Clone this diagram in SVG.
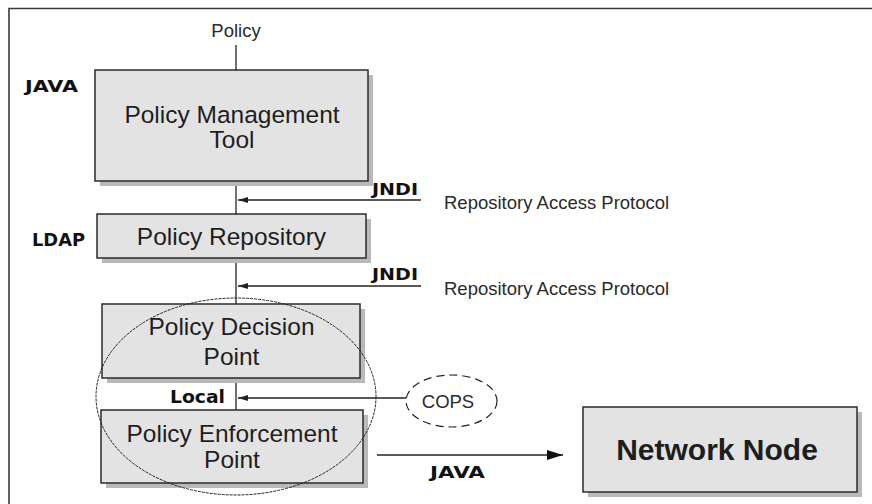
<svg xmlns="http://www.w3.org/2000/svg" width="872" height="504" viewBox="0 0 872 504">
  <defs>
    <style>
      .box { fill: #e3e3e3; stroke: #2b2b2b; stroke-width: 1.5; }
      .shadow { fill: #b9b9b9; }
      .lbl { font-family: "Liberation Sans", Arial, sans-serif; fill: #1e1e1e; text-anchor: middle; }
      .big { font-size: 24.5px; }
      .note { font-size: 18.5px; fill: #2a2a2a; }
      .tag { font-family: "DejaVu Sans", Verdana, sans-serif; font-weight: bold; fill: #111; }
      .wire { stroke: #222; stroke-width: 1.3; fill: none; }
      .frame { stroke: #3a3a3a; stroke-width: 1.6; fill: none; }
    </style>
    <marker id="tipSmall" viewBox="0 0 10 6" refX="10" refY="3" markerWidth="10" markerHeight="6" markerUnits="userSpaceOnUse" orient="auto">
      <path d="M0,0 L10,3 L0,6 Z" fill="#222"/>
    </marker>
    <marker id="tipLarge" viewBox="0 0 16 10" refX="16" refY="5" markerWidth="16" markerHeight="10" markerUnits="userSpaceOnUse" orient="auto">
      <path d="M0,0 L16,5 L0,10 Z" fill="#111"/>
    </marker>
  </defs>

  <rect width="872" height="504" fill="#ffffff"/>

  <!-- outer frame (open to the right and bottom) -->
  <path class="frame" d="M872,8.5 H9 V504"/>

  <!-- side technology tags -->
  <text class="tag" x="25" y="92" font-size="16" textLength="53" lengthAdjust="spacingAndGlyphs">JAVA</text>
  <text class="tag" x="32" y="246" font-size="18" textLength="53" lengthAdjust="spacingAndGlyphs">LDAP</text>

  <!-- connectors -->
  <g id="connectors">
    <line class="wire" x1="236" y1="45" x2="236" y2="70"/>
    <line class="wire" x1="236" y1="181" x2="236" y2="214"/>
    <line class="wire" x1="236" y1="258" x2="236" y2="304"/>
    <line class="wire" x1="236" y1="378" x2="236" y2="410"/>
    <line class="wire" x1="421" y1="200" x2="238" y2="200" marker-end="url(#tipSmall)"/>
    <line class="wire" x1="421" y1="286" x2="238" y2="286" marker-end="url(#tipSmall)"/>
    <line class="wire" x1="406" y1="398" x2="238" y2="398" marker-end="url(#tipSmall)"/>
    <line class="wire" x1="377" y1="455" x2="563" y2="455" marker-end="url(#tipLarge)"/>
    <text class="lbl note" x="236" y="37">Policy</text>
    <text class="tag" x="372" y="195" font-size="15" textLength="46" lengthAdjust="spacingAndGlyphs">JNDI</text>
    <text class="tag" x="372" y="280" font-size="15" textLength="46" lengthAdjust="spacingAndGlyphs">JNDI</text>
    <text class="tag" x="170" y="403" font-size="18" textLength="55" lengthAdjust="spacingAndGlyphs">Local</text>
    <text class="tag" x="430" y="478" font-size="16" textLength="55" lengthAdjust="spacingAndGlyphs">JAVA</text>
    <text class="lbl note" x="444" y="209" style="text-anchor:start">Repository Access Protocol</text>
    <text class="lbl note" x="444" y="295" style="text-anchor:start">Repository Access Protocol</text>
  </g>

  <g id="policy-management-tool">
    <rect class="shadow" x="100" y="75" width="273" height="111"/>
    <rect class="box" x="95" y="70" width="273" height="111"/>
    <text class="lbl big" x="232" y="123">Policy Management</text>
    <text class="lbl big" x="232" y="148">Tool</text>
  </g>

  <g id="policy-repository">
    <rect class="shadow" x="102" y="219" width="269" height="44"/>
    <rect class="box" x="97" y="214" width="269" height="44"/>
    <text class="lbl big" x="231.5" y="245">Policy Repository</text>
  </g>

  <g id="policy-decision-point">
    <rect class="shadow" x="107" y="309" width="258" height="74"/>
    <rect class="box" x="102" y="304" width="258" height="74"/>
    <text class="lbl big" x="231.5" y="335">Policy Decision</text>
    <text class="lbl big" x="231.5" y="365">Point</text>
  </g>

  <g id="policy-enforcement-point">
    <rect class="shadow" x="106" y="415" width="262" height="73"/>
    <rect class="box" x="101" y="410" width="262" height="73"/>
    <text class="lbl big" x="232" y="442">Policy Enforcement</text>
    <text class="lbl big" x="232" y="468">Point</text>
  </g>

  <g id="policy-server">
    <ellipse cx="236" cy="396.5" rx="140" ry="98.5" fill="none" stroke="#222" stroke-width="1" stroke-dasharray="3 1"/>
  </g>

  <g id="cops">
    <ellipse cx="451.5" cy="401" rx="45.5" ry="26" fill="none" stroke="#222" stroke-width="1.2" stroke-dasharray="8 5"/>
    <text class="lbl note" x="448" y="408">COPS</text>
  </g>

  <g id="network-node">
    <rect class="shadow" x="588" y="412" width="274" height="85"/>
    <rect class="box" x="583" y="407" width="274" height="85"/>
    <text class="lbl" x="717" y="460" font-size="30" font-weight="bold" fill="#111">Network Node</text>
  </g>
</svg>
